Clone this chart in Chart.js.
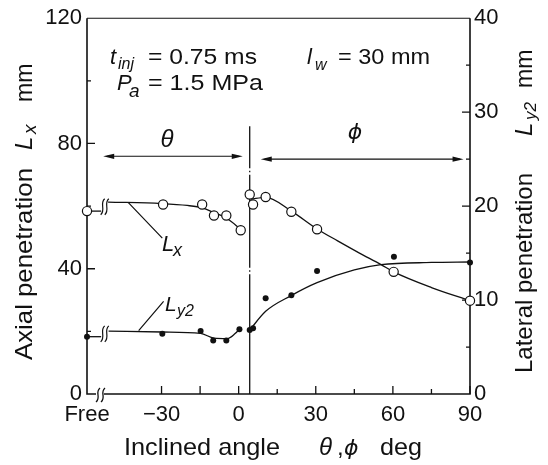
<!DOCTYPE html>
<html>
<head>
<meta charset="utf-8">
<script src="https://cdn.jsdelivr.net/npm/chart.js@4.4.1/dist/chart.umd.min.js"></script>
<style>
  html, body { margin: 0; padding: 0; background: #fff; }
  #wrap { width: 548px; height: 465px; position: relative; }
</style>
</head>
<body>
<div id="wrap"><canvas id="chart"></canvas></div>
<script>
// ==========================================
// Data (angle in deg, Lx on left axis mm, Ly2 on right axis mm)
// ==========================================
const FREE = -59; // position of the "Free" (no wall) case on the angle axis

// measured points, Lx (open circles)
const lxThetaAngle = [FREE, -29.4, -14.2, -9.6, -4.8, 0.8];
const lxThetaValue = [58.4, 60.5, 60.5, 57.0, 57.0, 52.3];
const lxPhiAngle   = [4.3, 5.6, 10.5, 20.5, 30.5, 60.3, 90];
const lxPhiValue   = [63.7, 60.5, 62.9, 58.2, 52.6, 39.0, 29.8];

// measured points, Ly2 (filled dots)
const lyThetaAngle = [FREE, -29.7, -14.8, -9.9, -4.8, 0.3];
const lyThetaValue = [6.1, 6.4, 6.7, 5.7, 5.7, 6.9];
const lyPhiAngle   = [4.3, 5.6, 10.5, 20.5, 30.5, 60.4, 90];
const lyPhiValue   = [6.8, 7.0, 10.2, 10.5, 13.1, 14.6, 14.0];

// hand-drawn fit curves
const lxThetaFitAngle = [-50.8, -30, -20, -14, -9.6, -4.8, 0.8, 1.7];
const lxThetaFitValue = [61.3, 60.8, 60.2, 59.4, 57.9, 56.2, 52.6, 52.0];
const lxPhiFitAngle   = [4.8, 10.5, 20.5, 30.5, 38.5, 47, 55.4, 60.3, 75, 90];
const lxPhiFitValue   = [62.2, 62.8, 58.4, 52.7, 48.9, 45.0, 41.3, 39.0, 34.0, 29.8];
const lyThetaFitAngle = [-50.6, -29.8, -14.8, -9.6, -4.4, -1.5, 0.6];
const lyThetaFitValue = [6.7, 6.6, 6.45, 5.95, 5.9, 6.4, 7.0];
const lyPhiFitAngle   = [4.3, 10.5, 20.6, 30.5, 45, 55.4, 75, 90];
const lyPhiFitValue   = [6.8, 8.8, 10.5, 11.85, 13.2, 13.76, 14.0, 14.05];

// short stubs from the "Free" points up to the axis break
const lxStubAngle = [FREE, -53.5];
const lxStubValue = [58.4, 58.4];
const lyStubAngle = [FREE, -53.5];
const lyStubValue = [6.1, 6.1];

// axes
const xTickValues = [FREE, -30, 0, 30, 60, 90];
const xTickLabels = ['Free', '\u221230', '0', '30', '60', '90'];
const xTickMarks  = [-30, -15, 0, 15, 30, 45, 60, 75, 90];
const yTickValues = [0, 40, 80, 120];
const yTickMarks  = [20, 40, 60, 80, 100];
const y2TickValues = [0, 10, 20, 30, 40];
const y2TickMarks  = [5, 10, 15, 20, 25, 30, 35];

const FONT = "'Liberation Sans', Arial, Helvetica, sans-serif";
const PHI_FONT = "'DejaVu Sans', sans-serif";
const PHI = '\u03d5';
const INK = '#111';

function zip(xs, ys) {
    return xs.map((v, i) => ({ x: v, y: ys[i] }));
}
function font(size, italic, family) {
    return (italic ? 'italic ' : '') + size + 'px ' + (family || FONT);
}

// draws text, optionally stretched to a measured width (the scan is a bit wide)
function drawText(ctx, text, x, y, size, italic, width, family) {
    ctx.save();
    ctx.font = font(size, italic, family);
    ctx.translate(x, y);
    if (width) ctx.scale(width / ctx.measureText(text).width, 1);
    ctx.fillText(text, 0, 0);
    ctx.restore();
}

// rotated text reading bottom-to-top, from page y "fromY" up to "toY"
function drawVertical(ctx, text, baseX, fromY, toY, size, italic, shift) {
    ctx.save();
    ctx.translate(baseX + (shift || 0), fromY);
    ctx.rotate(-Math.PI / 2);
    ctx.font = font(size, italic);
    if (toY != null) ctx.scale((fromY - toY) / ctx.measureText(text).width, 1);
    ctx.fillText(text, 0, 0);
    ctx.restore();
}

function breakMark(ctx, x, y, h) {
    ctx.beginPath();
    ctx.moveTo(x - 2, y + h);
    ctx.bezierCurveTo(x + 3.5, y + h * 0.35, x - 3.5, y - h * 0.35, x + 2, y - h);
    ctx.stroke();
}

function arrowHead(ctx, x, y, dir) {
    ctx.beginPath();
    ctx.moveTo(x, y);
    ctx.lineTo(x - dir * 11, y - 2.6);
    ctx.lineTo(x - dir * 11, y + 2.6);
    ctx.closePath();
    ctx.fill();
}

// ==========================================
// Frame, ticks, arrows, labels
// ==========================================
const decorPlugin = {
    id: 'decor',
    beforeDatasetsDraw(chart) {
        const { ctx, chartArea: a, scales: { x, y } } = chart;
        ctx.save();
        ctx.strokeStyle = INK;
        ctx.fillStyle = INK;
        ctx.lineCap = 'butt';

        // box
        ctx.lineWidth = 1.1;
        ctx.beginPath();
        ctx.moveTo(a.left, a.top); ctx.lineTo(a.right, a.top);
        ctx.stroke();
        ctx.lineWidth = 1.6;
        ctx.beginPath();
        ctx.moveTo(a.left, a.top); ctx.lineTo(a.left, a.bottom); ctx.lineTo(a.left + 9, a.bottom);
        ctx.moveTo(a.left + 17, a.bottom); ctx.lineTo(a.right, a.bottom); ctx.lineTo(a.right, a.top);
        ctx.stroke();
        ctx.lineWidth = 1.3;
        breakMark(ctx, a.left + 11, a.bottom + 1, 7);
        breakMark(ctx, a.left + 16, a.bottom + 1, 7);

        // inward ticks
        ctx.lineWidth = 1.3;
        ctx.beginPath();
        xTickMarks.forEach(v => {
            const X = x.getPixelForValue(v);
            const len = (v % 30 === 0 || v < 0) ? 8 : 5;
            ctx.moveTo(X, a.bottom); ctx.lineTo(X, a.bottom - len);
        });
        yTickMarks.forEach(v => {
            const Y = y.getPixelForValue(v);
            const len = v % 40 === 0 ? 8 : 4;
            ctx.moveTo(a.left, Y); ctx.lineTo(a.left + len, Y);
        });
        const y2 = chart.scales.y2;
        y2TickMarks.forEach(v => {
            const Y = y2.getPixelForValue(v);
            const len = v % 10 === 0 ? 8 : 4;
            ctx.moveTo(a.right, Y); ctx.lineTo(a.right - len, Y);
        });
        ctx.stroke();

        // theta / phi separator
        const sx = x.getPixelForValue(4.3);
        ctx.lineWidth = 1.3;
        ctx.setLineDash([42, 2.5, 1.5, 2.5, 93, 2.5, 1.5, 2.5, 300]);
        ctx.beginPath();
        ctx.moveTo(sx, y.getPixelForValue(85.5));
        ctx.lineTo(sx, a.bottom);
        ctx.stroke();
        ctx.setLineDash([]);

        // range arrows
        const ty = y.getPixelForValue(75.9);
        const t0 = x.getPixelForValue(-52.7), t1 = x.getPixelForValue(1.6);
        const py = y.getPixelForValue(75.0);
        const p0 = x.getPixelForValue(8.6), p1 = x.getPixelForValue(87.5);
        ctx.lineWidth = 1.1;
        ctx.beginPath();
        ctx.moveTo(t0 + 4, ty); ctx.lineTo(t1 - 4, ty);
        ctx.moveTo(p0 + 4, py); ctx.lineTo(p1 - 4, py);
        ctx.stroke();
        arrowHead(ctx, t0, ty, -1);
        arrowHead(ctx, t1, ty, 1);
        arrowHead(ctx, p0, py, -1);
        arrowHead(ctx, p1, py, 1);

        ctx.restore();
    },
    afterDatasetsDraw(chart) {
        const { ctx, scales: { x, y, y2 } } = chart;
        ctx.save();
        ctx.strokeStyle = INK;
        ctx.fillStyle = INK;
        ctx.lineWidth = 1.2;

        // breaks in the curves
        [[y, 59.8], [y2, 6.4]].forEach(([s, v]) => {
            const Y = s.getPixelForValue(v);
            breakMark(ctx, x.getPixelForValue(-52.9), Y, 8);
            breakMark(ctx, x.getPixelForValue(-51.3), Y, 8);
        });

        // leader lines
        ctx.beginPath();
        ctx.moveTo(x.getPixelForValue(-42.9), y.getPixelForValue(61.1));
        ctx.lineTo(x.getPixelForValue(-29.7), y.getPixelForValue(49.8));
        ctx.moveTo(x.getPixelForValue(-38.9), y2.getPixelForValue(6.75));
        ctx.lineTo(x.getPixelForValue(-29.2), y2.getPixelForValue(9.85));
        ctx.stroke();

        ctx.textBaseline = 'alphabetic';
        ctx.textAlign = 'left';

        // condition text
        drawText(ctx, 't', 110, 64, 22, true);
        drawText(ctx, 'inj', 118, 69, 16, true);
        drawText(ctx, '= 0.75 ms', 148, 64, 22, false, 109);
        drawText(ctx, 'P', 117, 90, 22, true);
        drawText(ctx, 'a', 129, 97, 19, true);
        drawText(ctx, '= 1.5 MPa', 148, 90, 22, false, 115);
        drawText(ctx, 'l', 307, 64, 22, true);
        drawText(ctx, 'w', 315, 70, 16, true);
        drawText(ctx, '= 30 mm', 338, 64, 22, false, 92);

        // curve labels
        drawText(ctx, 'L', 162, 251, 22, true);
        drawText(ctx, 'x', 173, 256, 18, true);
        drawText(ctx, 'L', 165, 311, 21, true);
        drawText(ctx, 'y2', 177, 316, 16, true);

        ctx.textAlign = 'center';
        ctx.textBaseline = 'middle';
        drawText(ctx, '\u03b8', 167, 140, 24, true);
        drawText(ctx, PHI, 355, 133, 22, true, null, PHI_FONT);

        // x axis title
        ctx.textAlign = 'left';
        ctx.textBaseline = 'alphabetic';
        drawText(ctx, 'Inclined angle', 124, 455, 24, false, 156);
        drawText(ctx, '\u03b8', 319, 455, 24, true);
        drawText(ctx, ',', 337, 455, 24, false);
        drawText(ctx, PHI, 344, 455, 22, true, null, PHI_FONT);
        drawText(ctx, 'deg', 380, 455, 24, false, 42);

        // y axis titles
        drawVertical(ctx, 'Axial penetration', 32, 360, 168, 24, false);
        drawVertical(ctx, 'L', 32, 150, null, 24, true);
        drawVertical(ctx, 'x', 32, 134, null, 19, true, 4);
        drawVertical(ctx, 'mm', 32, 102, null, 23, false);

        drawVertical(ctx, 'Lateral penetration', 532, 373, 173, 24, false);
        drawVertical(ctx, 'L', 532, 136, null, 24, true);
        drawVertical(ctx, 'y2', 532, 120, null, 17, true, 4);
        drawVertical(ctx, 'mm', 532, 88, null, 23, false);

        ctx.restore();
    }
};

// ==========================================
// Chart
// ==========================================
const lineStyle = {
    showLine: true,
    pointRadius: 0,
    borderColor: INK,
    borderWidth: 1.3,
    cubicInterpolationMode: 'monotone',
    clip: false
};
const openPoint = {
    pointRadius: 4.6,
    pointBackgroundColor: '#fff',
    pointBorderColor: INK,
    pointBorderWidth: 1.2,
    clip: false
};
const dotPoint = {
    pointRadius: 3,
    pointBackgroundColor: INK,
    pointBorderColor: INK,
    pointBorderWidth: 0,
    clip: false
};

const ctx = document.getElementById('chart');
new Chart(ctx, {
    type: 'scatter',
    data: {
        datasets: [
            { label: 'Lx theta', data: zip(lxThetaAngle, lxThetaValue), yAxisID: 'y', ...openPoint },
            { label: 'Lx phi', data: zip(lxPhiAngle, lxPhiValue), yAxisID: 'y', ...openPoint },
            { label: 'Ly2 theta', data: zip(lyThetaAngle, lyThetaValue), yAxisID: 'y2', ...dotPoint },
            { label: 'Ly2 phi', data: zip(lyPhiAngle, lyPhiValue), yAxisID: 'y2', ...dotPoint },
            { label: 'Lx theta fit', data: zip(lxThetaFitAngle, lxThetaFitValue), yAxisID: 'y', ...lineStyle },
            { label: 'Lx phi fit', data: zip(lxPhiFitAngle, lxPhiFitValue), yAxisID: 'y', ...lineStyle },
            { label: 'Ly2 theta fit', data: zip(lyThetaFitAngle, lyThetaFitValue), yAxisID: 'y2', ...lineStyle },
            { label: 'Ly2 phi fit', data: zip(lyPhiFitAngle, lyPhiFitValue), yAxisID: 'y2', ...lineStyle },
            { label: 'Lx stub', data: zip(lxStubAngle, lxStubValue), yAxisID: 'y', ...lineStyle, cubicInterpolationMode: 'default', tension: 0 },
            { label: 'Ly2 stub', data: zip(lyStubAngle, lyStubValue), yAxisID: 'y2', ...lineStyle, cubicInterpolationMode: 'default', tension: 0 }
        ]
    },
    options: {
        responsive: true,
        maintainAspectRatio: false,
        devicePixelRatio: 1,
        animation: false,
        layout: { padding: { top: 16, left: 0, right: 0, bottom: 0 } },
        plugins: {
            legend: { display: false },
            tooltip: { enabled: false }
        },
        scales: {
            x: {
                type: 'linear',
                min: FREE,
                max: 90,
                afterFit: s => { s.height = 71; },
                afterBuildTicks: s => { s.ticks = xTickValues.map(v => ({ value: v })); },
                grid: { display: false, drawTicks: false },
                border: { display: false },
                ticks: {
                    autoSkip: false,
                    maxRotation: 0,
                    padding: 8,
                    color: INK,
                    font: { family: FONT, size: 22 },
                    callback: (value, index) => xTickLabels[index]
                }
            },
            y: {
                position: 'left',
                min: 0,
                max: 120,
                afterFit: s => { s.width = 87; },
                afterBuildTicks: s => { s.ticks = yTickValues.map(v => ({ value: v })); },
                grid: { display: false, drawTicks: false },
                border: { display: false },
                ticks: { padding: 5, color: INK, font: { family: FONT, size: 22 } }
            },
            y2: {
                position: 'right',
                min: 0,
                max: 40,
                afterFit: s => { s.width = 78; },
                afterBuildTicks: s => { s.ticks = y2TickValues.map(v => ({ value: v })); },
                grid: { display: false, drawTicks: false },
                border: { display: false },
                ticks: { padding: 4, color: INK, font: { family: FONT, size: 22 } }
            }
        }
    },
    plugins: [decorPlugin]
});
</script>
</body>
</html>
